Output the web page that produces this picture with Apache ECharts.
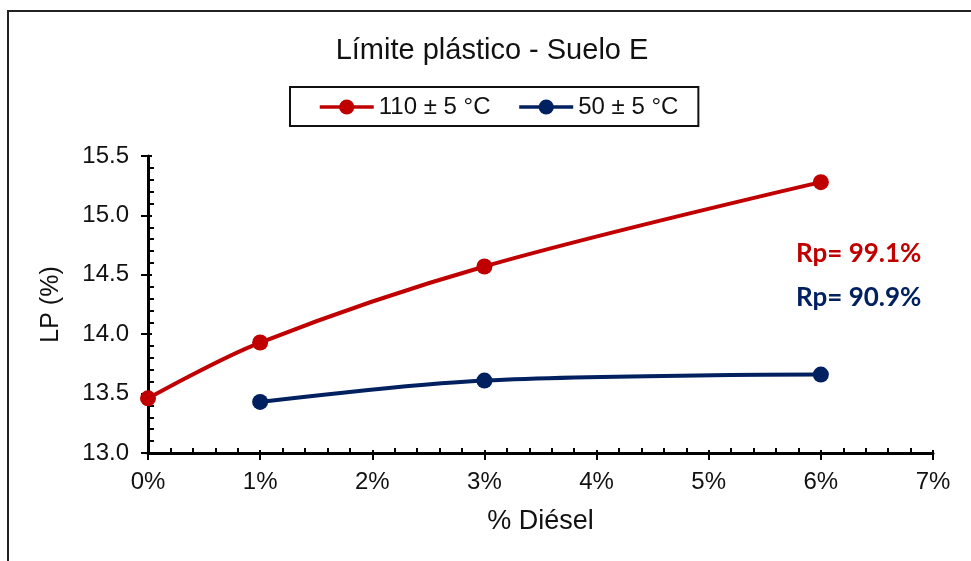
<!DOCTYPE html>
<html>
<head>
<meta charset="utf-8">
<title>Límite plástico - Suelo E</title>
<script src="https://cdn.jsdelivr.net/npm/echarts@6/dist/echarts.min.js"></script>
<style>
  html, body { margin: 0; padding: 0; background: #fff; }
  #chart { width: 971px; height: 561px; }
</style>
</head>
<body>
<div id="chart"></div>
<script>
// Diesel content (%) on the x axis
const dieselPct110 = [0, 1, 3, 6];
const dieselPct50 = [1, 3, 6];
// Plastic limit LP (%) for each drying temperature
const lp110 = [13.46, 13.93, 14.57, 15.28];
const lp50 = [13.43, 13.61, 13.66];
const seriesNames = ['110 ± 5 °C', '50 ± 5 °C'];
const rpLabels = ['Rp= 99.1%', 'Rp= 90.9%'];
const xTicks = [0, 1, 2, 3, 4, 5, 6, 7];
const yTicks = [13.0, 13.5, 14.0, 14.5, 15.0, 15.5];

const RED = '#C00000';
const NAVY = '#002060';
const FONT = '"Liberation Sans", Arial, sans-serif';

const chart = echarts.init(document.getElementById('chart'), null, { renderer: 'canvas' });

const xMin = xTicks[0], xMax = xTicks[xTicks.length - 1];
const yMin = yTicks[0], yMax = yTicks[yTicks.length - 1];

const baseX = {
  type: 'value', min: xMin, max: xMax, interval: 1,
  position: 'bottom'
};
const baseY = {
  type: 'value', min: yMin, max: yMax, interval: 0.5,
  position: 'left'
};

chart.setOption({
  backgroundColor: '#ffffff',
  animation: false,
  title: {
    text: 'Límite plástico - Suelo E',
    left: 487, top: 31, textAlign: 'center',
    textStyle: { fontFamily: FONT, fontSize: 29, fontWeight: 'normal', color: '#111' }
  },
  legend: {
    left: 290, top: 87,
    padding: [8, 20, 7, 28],
    itemGap: 27,
    itemWidth: 54, itemHeight: 19,
    borderColor: '#111', borderWidth: 2,
    textStyle: { fontFamily: FONT, fontSize: 24, color: '#111' },
    lineStyle: { width: 3.5 },
    data: seriesNames
  },
  grid: { left: 148, right: 38, top: 156, bottom: 108 },
  xAxis: [
    Object.assign({}, baseX, {
      name: '% Diésel',
      nameLocation: 'middle',
      nameGap: 55,
      nameTextStyle: { fontFamily: FONT, fontSize: 27, color: '#111' },
      axisLine: { show: true, lineStyle: { color: '#000', width: 3 } },
      axisTick: { show: true, inside: false, length: 7, lineStyle: { color: '#000', width: 2 } },
      axisLabel: {
        margin: 17, fontFamily: FONT, fontSize: 24, color: '#111',
        formatter: v => v + '%'
      },
      splitLine: { show: false }
    }),
    Object.assign({}, baseX, {
      axisLine: { show: false },
      axisTick: { show: true, inside: true, length: 3, lineStyle: { color: '#000', width: 2 } },
      minorTick: { show: true, splitNumber: 5, length: 5, lineStyle: { color: '#000', width: 2 } },
      axisLabel: { show: false },
      splitLine: { show: false }
    })
  ],
  yAxis: [
    Object.assign({}, baseY, {
      name: 'LP (%)',
      nameLocation: 'middle',
      nameGap: 84,
      nameTextStyle: { fontFamily: FONT, fontSize: 25, color: '#111' },
      axisLine: { show: true, lineStyle: { color: '#000', width: 3 } },
      axisTick: { show: true, inside: false, length: 7, lineStyle: { color: '#000', width: 2 } },
      axisLabel: {
        margin: 19, fontFamily: FONT, fontSize: 24, color: '#111',
        formatter: v => v.toFixed(1)
      },
      splitLine: { show: false }
    }),
    Object.assign({}, baseY, {
      axisLine: { show: false },
      axisTick: { show: true, inside: true, length: 4, lineStyle: { color: '#000', width: 2 } },
      minorTick: { show: true, splitNumber: 5, length: 6, lineStyle: { color: '#000', width: 2 } },
      axisLabel: { show: false },
      splitLine: { show: false }
    })
  ],
  series: [
    {
      name: seriesNames[0],
      type: 'line',
      xAxisIndex: 0, yAxisIndex: 0,
      smooth: 0.35,
      symbol: 'circle', symbolSize: 16,
      lineStyle: { color: RED, width: 4 },
      itemStyle: { color: RED },
      data: dieselPct110.map((x, i) => [x, lp110[i]]),
      z: 3
    },
    {
      name: seriesNames[1],
      type: 'line',
      xAxisIndex: 0, yAxisIndex: 0,
      smooth: 0.35,
      symbol: 'circle', symbolSize: 16,
      lineStyle: { color: NAVY, width: 4 },
      itemStyle: { color: NAVY },
      data: dieselPct50.map((x, i) => [x, lp50[i]]),
      z: 3
    }
  ],
  graphic: [
    {
      type: 'rect', silent: true, z: -1,
      shape: { x: 8, y: 11, width: 1000, height: 600 },
      style: { fill: 'none', stroke: '#222', lineWidth: 2 }
    },
    {
      type: 'text', left: 796, top: 241,
      style: { text: rpLabels[0], fill: RED, font: 'bold 26px Lato, "Liberation Sans", sans-serif' }
    },
    {
      type: 'text', left: 796, top: 285,
      style: { text: rpLabels[1], fill: NAVY, font: 'bold 26px Lato, "Liberation Sans", sans-serif' }
    }
  ]
});
</script>
</body>
</html>
